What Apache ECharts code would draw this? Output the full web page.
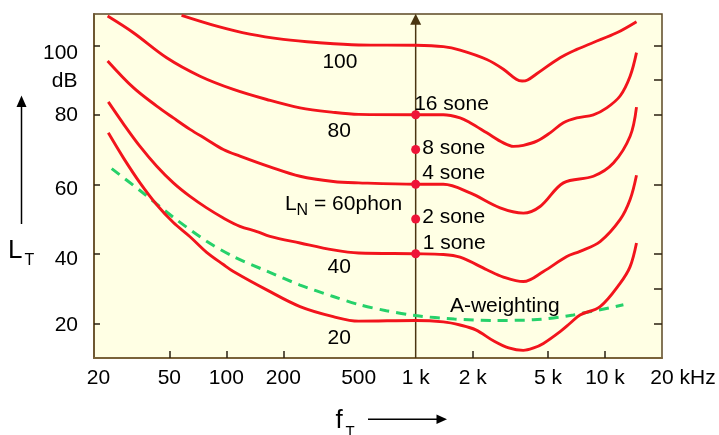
<!DOCTYPE html>
<html>
<head>
<meta charset="utf-8">
<script src="https://cdn.jsdelivr.net/npm/echarts@6/dist/echarts.min.js"></script>
<style>
  html, body { margin: 0; padding: 0; background: #ffffff; }
  #chart { width: 719px; height: 435px; }
</style>
</head>
<body>
<div id="chart"></div>
<script>
// Frequency axis (Hz, logarithmic)
const freqTicks = [20, 50, 100, 200, 500, 1000, 2000, 5000, 10000, 20000];
const freqLabels = ['20', '50', '100', '200', '500', '1 k', '2 k', '5 k', '10 k', '20 kHz'];
const freqTickMarks = [50, 100, 200, 2000, 5000, 10000];

// Level axis (dB)
const levelTicks = [20, 40, 60, 80, 100];
const rightTicks = [20, 30, 40, 60, 80, 90, 100];

// Equal-loudness contours: frequency (Hz) and sound pressure level (dB)
const phon100Freq = [58, 89, 133, 200, 300, 500, 1000, 1400, 1716, 2375, 2907, 3400, 3650, 3900, 4360, 5792, 7096, 8682, 11536, 14668];
const phon100Level = [108.6, 105.5, 103.2, 101.7, 100.8, 100.1, 100, 99.6, 98.6, 95.9, 93.1, 90.2, 89.7, 90.0, 91.8, 96.4, 98.8, 100.8, 103.6, 106.8];

const phon80Freq = [23.6, 32.3, 48.4, 72.6, 109, 163.5, 245, 367, 500, 1000, 1400, 1716, 1938, 2375, 2907, 3281, 3706, 4362, 5128, 6029, 7096, 8682, 10217, 12012, 13570, 14668];
const phon80Level = [108.4, 103.6, 96.4, 91.1, 87.3, 84.4, 82.0, 80.7, 80.1, 80, 80, 79.1, 77.7, 74.8, 71.9, 70.9, 71.2, 72.4, 74.8, 77.7, 79.1, 80, 82, 85.4, 91.1, 97.9];

const phon60Freq = [23.6, 32.3, 42.9, 52.5, 64.3, 78.7, 96.4, 118, 170, 245, 367, 500, 1000, 1400, 1938, 2792, 3706, 4541, 6029, 8682, 11074, 13570, 14668];
const phon60Level = [95.5, 87.8, 82.5, 79.1, 75.8, 72.9, 70.0, 68.1, 65.0, 62.3, 60.8, 60.4, 60, 60, 57.5, 53.2, 51.7, 53.6, 60.4, 62.3, 66.1, 73.8, 82.2];

const phon40Freq = [23.8, 28.6, 35, 42.9, 52.5, 64.3, 78.7, 96.4, 118, 145, 170, 245, 367, 500, 1000, 1400, 1716, 2375, 2907, 3706, 4728, 6282, 7380, 9418, 12012, 13570, 14668];
const phon40Level = [83.7, 77.4, 70.9, 65.2, 60.4, 56.5, 53.2, 50.3, 47.9, 46.4, 45.0, 43.1, 41.1, 40.2, 40, 39.8, 39.0, 35.4, 33.3, 32.0, 34.9, 39.2, 40.7, 43.5, 49.8, 55.6, 62.6];

const phon20Freq = [23.8, 28.6, 35, 42.9, 52.5, 64.3, 78.7, 96.4, 109, 163.5, 245, 367, 500, 1000, 1400, 1716, 2076, 2600, 3100, 3700, 4200, 4728, 5792, 6539, 7380, 9418, 12012, 13570, 14668];
const phon20Level = [74.8, 67.6, 60.4, 54.1, 49.0, 44.9, 40.4, 36.9, 34.9, 29.6, 24.8, 21.9, 20.6, 20.8, 20.4, 19.5, 18.1, 14.8, 12.9, 12.2, 12.9, 14.2, 17.6, 20, 22.4, 24.8, 31.5, 36.3, 43.1];

// A-weighting reference curve
const aWeightFreq = [24.8, 35, 52.5, 78.7, 109, 163.5, 245, 367, 500, 700, 1000, 1600, 2572, 4186, 6808, 12506];
const aWeightLevel = [64.5, 58.2, 50.5, 43.6, 39.2, 35.0, 31.0, 27.7, 25.4, 23.6, 22.2, 21.2, 20.8, 21.0, 22.4, 25.3];

// Loudness in sone at 1 kHz
const refFreq = 1000;
const soneLevels = [40, 50, 60, 70, 80];
const soneValues = [1, 2, 4, 8, 16];

const FONT = '"Liberation Sans", Arial, sans-serif';
const RED = '#F2141C';
const INK = '#000000';

function pairs(f, l) { return f.map((v, i) => [v, l[i]]); }

const contours = [
  { phon: 100, f: phon100Freq, l: phon100Level },
  { phon: 80, f: phon80Freq, l: phon80Level },
  { phon: 60, f: phon60Freq, l: phon60Level },
  { phon: 40, f: phon40Freq, l: phon40Level },
  { phon: 20, f: phon20Freq, l: phon20Level }
];

// Text placed inside the plot, in axis units
const notes = [
  { text: '100', f: 398, level: 95.2 },
  { text: '80', f: 395, level: 75.4 },
  { text: '40', f: 395, level: 36.2 },
  { text: '20', f: 395, level: 15.7 },
  { text: '{l|L}{s|N}{l| = 60phon}', f: 416, level: 54.2 },
  { text: 'A-weighting', f: 2955, level: 24.8 }
];

// label nudges for the sone captions (pixels)
const soneLabelOffsets = [[0.5, -10.5], [0, -1.5], [0, -11], [0, -1.5], [-8, -11]];
// vertical nudges of the level tick labels (pixels)
const levelLabelShift = { 100: 7.5, 80: 0.5, 60: 5, 40: 5, 20: 2.2 };

function freqIndex(v) {
  return freqTicks.findIndex(t => Math.abs(t - v) / t < 1e-4);
}

const levelRich = {};
levelTicks.forEach(t => {
  levelRich['v' + t] = { fontSize: 21, fontFamily: FONT, color: INK, padding: [2 * levelLabelShift[t], 0, 0, 0] };
});

const chart = echarts.init(document.getElementById('chart'), null, { renderer: 'canvas' });

const option = {
  animation: false,
  backgroundColor: '#ffffff',
  grid: {
    left: 94, right: 57, top: 14, bottom: 77,
    show: true,
    backgroundColor: '#FFFFE4',
    borderColor: '#5C4825',
    borderWidth: 1.5,
    containLabel: false,
    outerBoundsMode: 'none'
  },
  xAxis: {
    type: 'log', logBase: 10, min: 20, max: 20000,
    axisLine: { show: true, onZero: false, lineStyle: { color: '#7A6339', width: 2 } },
    axisTick: { show: true, inside: true, length: 7, customValues: freqTickMarks, lineStyle: { color: '#2A2010', width: 1.5 } },
    minorTick: { show: false },
    splitLine: { show: false },
    axisLabel: {
      customValues: freqTicks,
      margin: 10,
      fontSize: 21, fontFamily: FONT, color: INK,
      formatter: v => {
        const i = freqIndex(v);
        const s = freqLabels[i];
        if (i === 0) return '{first|' + s + '}';
        if (i === freqTicks.length - 1) return '{last|' + s + '}';
        return '{n|' + s + '}';
      },
      rich: {
        n: { fontSize: 21, fontFamily: FONT, color: INK },
        first: { fontSize: 21, fontFamily: FONT, color: INK, padding: [0, 0, 0, 9] },
        last: { fontSize: 21, fontFamily: FONT, color: INK, padding: [0, 0, 0, 42] }
      }
    }
  },
  yAxis: [
    {
      type: 'value', min: 10, max: 109, position: 'left',
      axisLine: { show: true, onZero: false, lineStyle: { color: '#6E5832', width: 2 } },
      axisTick: { show: true, inside: true, length: 6, customValues: levelTicks, lineStyle: { color: '#2A2010', width: 1.5 } },
      splitLine: { show: false },
      axisLabel: {
        customValues: levelTicks,
        margin: 16,
        fontSize: 21, fontFamily: FONT, color: INK,
        formatter: v => '{v' + v + '|' + v + '}',
        rich: levelRich
      }
    },
    {
      type: 'value', min: 10, max: 109, position: 'right',
      axisLine: { show: false },
      axisTick: { show: true, inside: true, length: 8, customValues: rightTicks, lineStyle: { color: '#2A2010', width: 1.5 } },
      axisLabel: { show: false },
      splitLine: { show: false }
    }
  ],
  series: [
    // 1 kHz reference line with arrow head
    {
      type: 'line',
      data: [{ value: [refFreq, 10], symbol: 'none' }, { value: [refFreq, 107.5], symbol: 'triangle', symbolSize: [11, 11] }],
      symbol: 'triangle', showSymbol: true, symbolSize: [11, 11],
      lineStyle: { color: '#4A3511', width: 1.5 },
      itemStyle: { color: '#4A3511' },
      z: 2, silent: true
    },
    {
      type: 'line',
      data: pairs(aWeightFreq, aWeightLevel),
      smooth: 0.3, symbol: 'none', showSymbol: false,
      lineStyle: { color: '#26D16A', width: 3, type: [10, 7] },
      z: 3, silent: true
    },
    ...contours.map(c => ({
      type: 'line',
      name: c.phon + ' phon',
      data: pairs(c.f, c.l),
      smooth: 0.35, symbol: 'none', showSymbol: false,
      lineStyle: { color: RED, width: 2.9 },
      z: 4, silent: true
    })),
    {
      type: 'scatter',
      data: soneLevels.map((l, i) => ({ value: [refFreq, l], label: { offset: soneLabelOffsets[i] } })),
      symbol: 'circle', symbolSize: 9,
      itemStyle: { color: '#EE1438', opacity: 1 },
      label: {
        show: true, position: 'right', distance: 2, opacity: 1,
        formatter: p => soneValues[p.dataIndex] + ' sone',
        fontSize: 21, fontFamily: FONT, color: INK
      },
      z: 6, silent: true
    },
    {
      type: 'scatter',
      data: notes.map(n => [n.f, n.level]),
      symbolSize: 1,
      itemStyle: { color: 'rgba(0,0,0,0)', opacity: 1 },
      label: {
        show: true, position: 'inside', opacity: 1,
        textBorderWidth: 0,
        formatter: p => notes[p.dataIndex].text,
        fontSize: 21, fontFamily: FONT, color: INK,
        rich: {
          l: { fontSize: 21, fontFamily: FONT, color: INK },
          s: { fontSize: 16, fontFamily: FONT, color: INK, padding: [13, 0, 0, 0] }
        }
      },
      z: 6, silent: true
    }
  ],
  graphic: [
    { type: 'text', x: 8, y: 251, style: { text: 'L', fontSize: 26, fontFamily: FONT, fill: INK, verticalAlign: 'middle', textVerticalAlign: 'middle' } },
    { type: 'text', x: 24.5, y: 261, style: { text: 'T', fontSize: 16, fontFamily: FONT, fill: INK, verticalAlign: 'middle', textVerticalAlign: 'middle' } },
    { type: 'line', shape: { x1: 21.5, y1: 224, x2: 21.5, y2: 104 }, style: { stroke: INK, lineWidth: 1.5 } },
    { type: 'polygon', shape: { points: [[21.5, 95.5], [16.5, 107], [26.5, 107]] }, style: { fill: INK } },
    { type: 'text', x: 335.5, y: 421, style: { text: 'f', fontSize: 26, fontFamily: FONT, fill: INK, verticalAlign: 'middle', textVerticalAlign: 'middle' } },
    { type: 'text', x: 345.5, y: 432, style: { text: 'T', fontSize: 15, fontFamily: FONT, fill: INK, verticalAlign: 'middle', textVerticalAlign: 'middle' } },
    { type: 'line', shape: { x1: 368, y1: 419.3, x2: 438, y2: 419.3 }, style: { stroke: INK, lineWidth: 1.5 } },
    { type: 'polygon', shape: { points: [[447, 419.3], [436.5, 414.6], [436.5, 424]] }, style: { fill: INK } },
    { type: 'text', x: 77.5, y: 81, style: { text: 'dB', fontSize: 21, fontFamily: FONT, fill: INK, align: 'right', textAlign: 'right', verticalAlign: 'middle', textVerticalAlign: 'middle' } }
  ]
};

chart.setOption(option);
</script>
</body>
</html>
